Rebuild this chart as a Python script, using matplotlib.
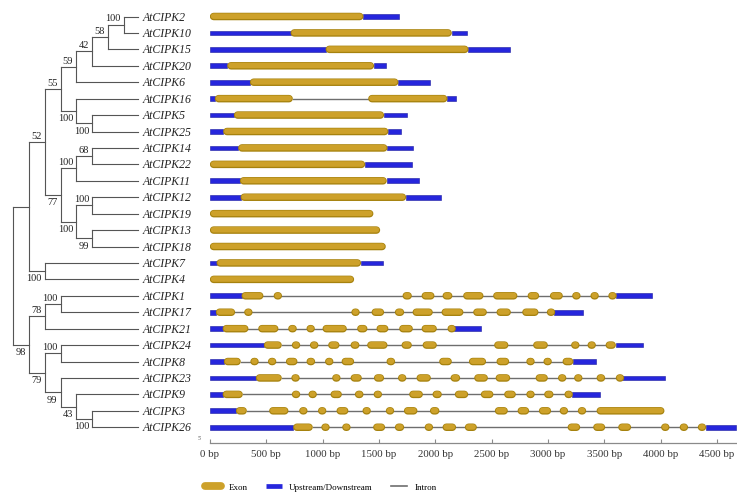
import matplotlib
matplotlib.use('Agg')
import matplotlib.pyplot as plt
from matplotlib.lines import Line2D

plt.rcParams['font.family'] = ['Liberation Serif', 'DejaVu Serif']

# phylogeny: (bootstrap, children), leaves are gene names
tree = ('', [
    ('', [
        ('52', [
            ('55', [
                ('59', [('42', [('58', [('100', ['AtCIPK2', 'AtCIPK10']), 'AtCIPK15']), 'AtCIPK20']), 'AtCIPK6']),
                ('100', ['AtCIPK16', ('100', ['AtCIPK5', 'AtCIPK25'])]),
            ]),
            ('77', [
                ('100', [('68', ['AtCIPK14', 'AtCIPK22']), 'AtCIPK11']),
                ('100', [('100', ['AtCIPK12', 'AtCIPK19']), ('99', ['AtCIPK13', 'AtCIPK18'])]),
            ]),
        ]),
        ('100', ['AtCIPK7', 'AtCIPK4']),
    ]),
    ('98', [
        ('78', [('100', ['AtCIPK1', 'AtCIPK17']), 'AtCIPK21']),
        ('79', [('100', ['AtCIPK24', 'AtCIPK8']),
                ('99', ['AtCIPK23', ('43', ['AtCIPK9', ('100', ['AtCIPK3', 'AtCIPK26'])])])]),
    ]),
])

# gene structures (bp): exon intervals and total length (UTRs = before first / after last exon)
genes = ['AtCIPK2', 'AtCIPK10', 'AtCIPK15', 'AtCIPK20', 'AtCIPK6', 'AtCIPK16', 'AtCIPK5',
         'AtCIPK25', 'AtCIPK14', 'AtCIPK22', 'AtCIPK11', 'AtCIPK12', 'AtCIPK19', 'AtCIPK13',
         'AtCIPK18', 'AtCIPK7', 'AtCIPK4', 'AtCIPK1', 'AtCIPK17', 'AtCIPK21', 'AtCIPK24',
         'AtCIPK8', 'AtCIPK23', 'AtCIPK9', 'AtCIPK3', 'AtCIPK26']
gene_end = [1680, 2278, 2662, 1559, 1952, 2183, 1746, 1695, 1804, 1795, 1855, 2050, 1449, 1509,
            1559, 1538, 1278, 3920, 3313, 2405, 3845, 3423, 4038, 3461, 4032, 4666]
exons = [
    [(0, 1361)],
    [(716, 2145)],
    [(1027, 2293)],
    [(154, 1455)],
    [(355, 1671)],
    [(44, 734), (1405, 2106)],
    [(213, 1544)],
    [(118, 1582)],
    [(251, 1574)],
    [(0, 1376)],
    [(266, 1568)],
    [(272, 1740)],
    [(0, 1449)],
    [(0, 1509)],
    [(0, 1559)],
    [(59, 1340)],
    [(0, 1278)],
    [(281, 473), (568, 636), (1710, 1790), (1879, 1991), (2065, 2150), (2248, 2426), (2514, 2727),
     (2820, 2920), (3018, 3130), (3219, 3284), (3381, 3446), (3541, 3603)],
    [(53, 222), (311, 370), (1258, 1325), (1435, 1544), (1642, 1722), (1799, 1976), (2056, 2248),
     (2337, 2456), (2544, 2669), (2772, 2914), (2997, 3056)],
    [(113, 340), (429, 606), (695, 769), (864, 923), (1000, 1213), (1307, 1396), (1479, 1582),
     (1680, 1799), (1879, 2012), (2124, 2166)],
    [(479, 636), (734, 793), (888, 961), (1050, 1148), (1249, 1325), (1396, 1574), (1701, 1790),
     (1888, 2012), (2523, 2647), (2869, 2997), (3215, 3269), (3352, 3423), (3512, 3601)],
    [(124, 272), (370, 420), (517, 586), (675, 775), (858, 932), (1036, 1080), (1169, 1278),
     (1568, 1642), (2035, 2145), (2299, 2449), (2544, 2654), (2820, 2869), (2967, 3026), (3130, 3224)],
    [(408, 636), (734, 784), (1089, 1154), (1249, 1346), (1456, 1544), (1680, 1731), (1834, 1959),
     (2136, 2219), (2346, 2465), (2536, 2663), (2891, 2997), (3100, 3151), (3233, 3304),
     (3432, 3506), (3618, 3659)],
    [(113, 290), (734, 793), (881, 941), (1071, 1169), (1287, 1361), (1464, 1515), (1769, 1888),
     (1976, 2056), (2174, 2290), (2405, 2514), (2612, 2713), (2820, 2869), (2967, 3047), (3151, 3215)],
    [(231, 326), (526, 695), (799, 858), (961, 1030), (1124, 1227), (1355, 1426), (1574, 1621),
     (1722, 1840), (1953, 2035), (2529, 2642), (2731, 2831), (2920, 3026), (3115, 3166),
     (3269, 3334), (3432, 4032)],
    [(739, 911), (1000, 1050), (1178, 1243), (1449, 1553), (1642, 1722), (1917, 1968), (2065, 2183),
     (2263, 2367), (3175, 3284), (3402, 3506), (3624, 3736), (4014, 4067), (4171, 4240), (4334, 4399)],
]
ticks = list(range(0, 4501, 500))

EXON = '#CDA12A'
EXON_EDGE = '#A6820E'
UTR = '#2626DC'
INTRON = '#6e6e6e'
TREE = '#555555'

W, H = 737, 502
fig = plt.figure(figsize=(W / 100, H / 100), dpi=100)
row0, rowstep, axis_y = 17.5, 16.43, 444
ylim = ((axis_y - row0) / rowstep, -row0 / rowstep)
ax_pos_y = (H - axis_y) / H

# ---- tree ----
axt = fig.add_axes([0, ax_pos_y, 205 / W, axis_y / H])
axt.set_xlim(-0.82, 12.11)
axt.set_ylim(*ylim)
axt.axis('off')
leaf_x = 7.89
rows = {}
counter = [0]


def draw(node, depth, parent_x=None, upper=True):
    if isinstance(node, str):
        y = counter[0]
        counter[0] += 1
        rows[node] = y
        axt.plot([parent_x, leaf_x], [y, y], color=TREE, lw=0.8)
        axt.text(leaf_x + 0.3, y, node, fontsize=8.5, style='italic', va='center', ha='left',
                 color='#222222')
        return y
    label, children = node
    ys = [draw(c, depth + 1, depth, i == 0) for i, c in enumerate(children)]
    y = (ys[0] + ys[-1]) / 2
    axt.plot([depth, depth], [ys[0], ys[-1]], color=TREE, lw=0.8)
    if parent_x is not None:
        axt.plot([parent_x, depth], [y, y], color=TREE, lw=0.8)
    if label:
        axt.text(depth - 0.2, y + (-0.14 if upper else 0.14), label, fontsize=7.5,
                 ha='right', va='bottom' if upper else 'top', color='#222222')
    return y


draw(tree, 0)

# ---- gene structures ----
axg = fig.add_axes([210 / W, ax_pos_y, 527 / W, axis_y / H])
axg.set_xlim(0, 4677)
axg.set_ylim(*ylim)
bp_per_px = 4677 / 527
cap = 3.6 * bp_per_px
for name, ex, end in zip(genes, exons, gene_end):
    y = rows[name]
    if len(ex) > 1:
        axg.plot([ex[0][1], ex[-1][0]], [y, y], color=INTRON, lw=1.0, zorder=1)
    utr = []
    if ex[0][0] > 0:
        utr.append((0, ex[0][0]))
    if end > ex[-1][1]:
        utr.append((ex[-1][1], end - ex[-1][1]))
    if utr:
        axg.broken_barh(utr, (y - 0.145, 0.29), facecolors=UTR, edgecolors='#1a1a9e',
                        linewidth=0.4, zorder=2)
    for s, e in ex:
        a, b = s + cap, e - cap
        if b - a < 8:
            m = (s + e) / 2
            a, b = m - 4, m + 4
        axg.plot([a, b], [y, y], color=EXON_EDGE, lw=5.4, solid_capstyle='round',
                 zorder=3, snap=False)
        axg.plot([a, b], [y - 0.02, y - 0.02], color=EXON, lw=4.0, solid_capstyle='round',
                 zorder=4, snap=False)

for sp in ['top', 'right', 'left']:
    axg.spines[sp].set_visible(False)
axg.spines['bottom'].set_color('#8a8a8a')
axg.spines['bottom'].set_linewidth(0.9)
axg.set_yticks([])
axg.set_xticks(ticks)
axg.set_xticklabels([f'{t} bp' for t in ticks], fontsize=7.8, color='#333333')
axg.tick_params(axis='x', direction='in', length=3, width=0.8, color='#8a8a8a', pad=4)
axg.annotate("5'", xy=(0, 0), xycoords='axes fraction', xytext=(-9, 3),
             textcoords='offset points', fontsize=4, color='#555555')

handles = [Line2D([], [], color=EXON, lw=5.6, solid_capstyle='round'),
           Line2D([], [], color=UTR, lw=3.4, solid_capstyle='butt'),
           Line2D([], [], color=INTRON, lw=1.2)]
fig.legend(handles, ['Exon', 'Upstream/Downstream', 'Intron'], loc='center left',
           bbox_to_anchor=(205 / W, 1 - 487.6 / H), ncol=3, frameon=False, fontsize=6.5,
           handlelength=1.8, handletextpad=0.8, columnspacing=2.0, borderpad=0, borderaxespad=0)

fig.savefig('out.png', dpi=100)
